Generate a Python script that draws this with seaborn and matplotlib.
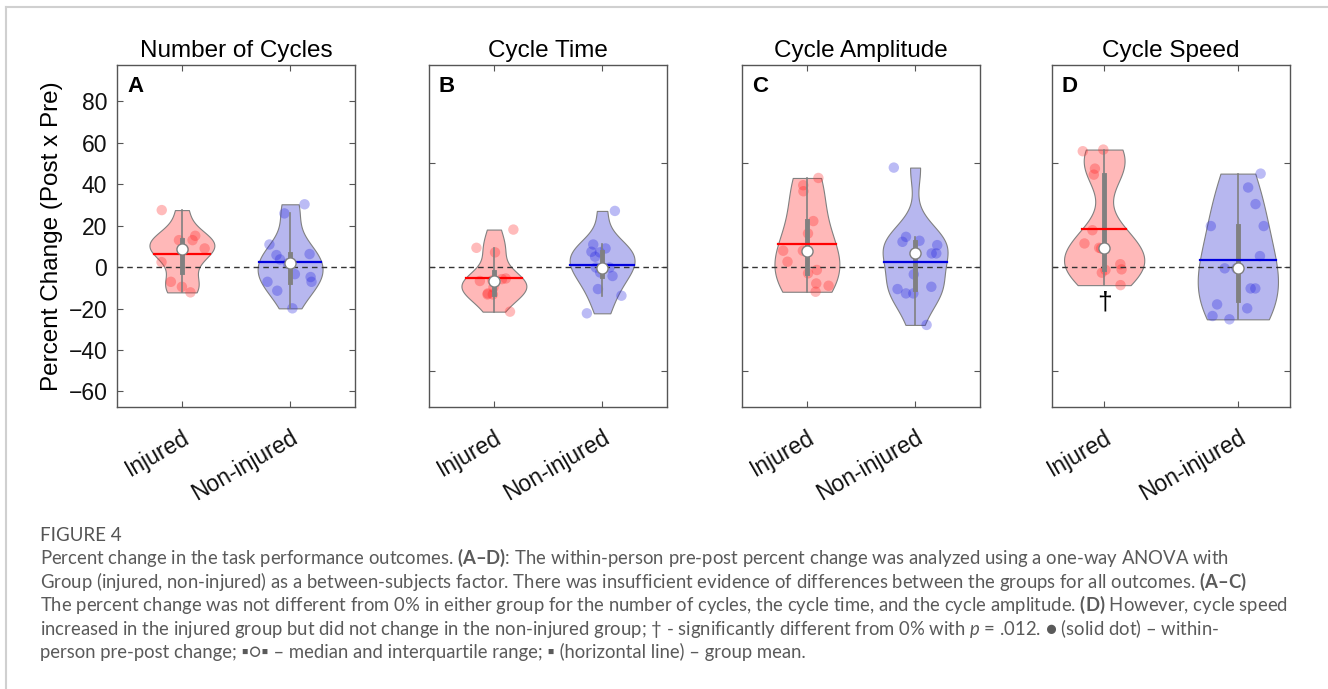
"""
Violin plots of within-person pre-post percent change (Figure 4)
"""
import numpy as np
import pandas as pd
import seaborn as sns
import matplotlib as mpl
import matplotlib.pyplot as plt
from matplotlib.lines import Line2D
mpl.use('Agg')

groups = ['Injured', 'Non-injured']
titles = ['Number of Cycles', 'Cycle Time', 'Cycle Amplitude', 'Cycle Speed']
letters = ['A', 'B', 'C', 'D']

# percent change values
cycles_injured    = [27.5, 15.1, 13.0, 13.0, 9.0, 8.5, 8.7, 2.4, -7.1, -9.5, -12.2]
cycles_noninjured = [30.3, 25.9, 10.9, 3.7, 6.3, 5.8, 1.8, -4.8, -7.1, -3.4, -7.1, -11.4, -19.9]
time_injured      = [18.1, 9.3, 7.1, -5.5, -5.8, -6.4, -6.7, -9.8, -12.7, -13.2, -13.2, -21.5]
time_noninjured   = [27.1, 10.9, 9.0, 7.4, 7.1, 5.0, -0.2, -0.2, -2.6, -4.3, -10.6, -13.8, -22.3]
amp_injured       = [43.0, 39.5, 36.6, 22.2, 16.2, 7.9, 7.9, 2.6, -1.4, -3.0, -7.9, -9.0, -11.9]
amp_noninjured    = [48.0, 14.6, 12.7, 12.2, 10.6, 6.6, 6.6, -3.5, -9.5, -10.6, -12.7, -12.7, -27.9]
speed_injured     = [56.7, 55.9, 47.5, 44.6, 17.8, 11.4, 9.3, 9.0, 1.4, -1.1, -1.4, -2.7, -8.7]
speed_noninjured  = [45.1, 38.4, 30.4, 19.8, 19.8, 5.3, -0.6, -0.6, -10.3, -10.3, -18.0, -19.9, -23.6, -25.2]

panels = [(cycles_injured, cycles_noninjured),
          (time_injured, time_noninjured),
          (amp_injured, amp_noninjured),
          (speed_injured, speed_noninjured)]

caption_lines = [
  r'Percent change in the task performance outcomes. $\mathbf{(A–D)}$: The within-person pre-post percent change was analyzed using a one-way ANOVA with',
  r'Group (injured, non-injured) as a between-subjects factor. There was insufficient evidence of differences between the groups for all outcomes. $\mathbf{(A–C)}$',
  r'The percent change was not different from 0% in either group for the number of cycles, the cycle time, and the cycle amplitude. $\mathbf{(D)}$ However, cycle speed',
  r'increased in the injured group but did not change in the non-injured group; † - significantly different from 0% with $p$ = .012. ● (solid dot) – within-',
  r'person pre-post change; ▪○▪ – median and interquartile range; ▪ (horizontal line) – group mean.',
]

fill_pal = {'Injured': '#ffb8b8', 'Non-injured': '#b7b7ef'}
dot_pal  = {'Injured': '#ff2020', 'Non-injured': '#2020e0'}
mean_pal = {'Injured': '#ff0000', 'Non-injured': '#0000dd'}

plt.rcParams['font.family'] = ['Liberation Sans', 'DejaVu Sans']
plt.rcParams['mathtext.fontset'] = 'custom'
plt.rcParams['mathtext.rm'] = 'Lato'
plt.rcParams['mathtext.it'] = 'Lato:italic'
plt.rcParams['mathtext.bf'] = 'Lato:bold'
plt.rcParams['mathtext.fallback'] = 'stixsans'


def matlab_bw(kde):
  """ksdensity-style bandwidth (robust sigma, normal rule) as a gaussian_kde factor"""
  x = kde.dataset.ravel()
  sig = np.median(np.abs(x - np.median(x))) / 0.6745
  bw = sig * (4.0 / (3.0 * len(x))) ** 0.2
  return bw / np.std(x, ddof=1)


W, H = 1328, 689
fig = plt.figure(figsize=(W / 100, H / 100), dpi=100)

lefts = [117, 429, 742, 1052]
ax_w, ax_top, ax_bot = 238, 65, 407

np.random.seed(7)
for i, (inj, non) in enumerate(panels):
  ax = fig.add_axes([lefts[i] / W, 1 - ax_bot / H, ax_w / W, (ax_bot - ax_top) / H])

  df = pd.DataFrame({'group': ['Injured'] * len(inj) + ['Non-injured'] * len(non),
                     'value': inj + non})

  ax.axhline(0, color='#333333', ls=(0, (4, 3)), lw=1.0, zorder=1.5)

  sns.violinplot(data=df, x='group', y='value', hue='group', order=groups, hue_order=groups,
                 palette=fill_pal, saturation=1, cut=0, density_norm='width', width=0.6,
                 bw_method=matlab_bw, inner='box',
                 inner_kws=dict(box_width=3.5, whis_width=1.2, marker='o', color='#808080'),
                 linecolor='#808080', linewidth=0.8, legend=False, ax=ax)
  violins = list(ax.collections)

  for line in ax.lines:
    if line.get_marker() == 'o':
      line.set_markersize(8)
      line.set_markerfacecolor('white')
      line.set_markeredgecolor('#808080')
      line.set_markeredgewidth(1.0)
      line.set_zorder(3)
    else:
      line.set_zorder(2.2)

  sns.stripplot(data=df, x='group', y='value', hue='group', order=groups, hue_order=groups,
                palette=dot_pal, jitter=0.22, size=7.5, alpha=0.3, linewidth=0,
                legend=False, ax=ax, zorder=1.8)

  # group mean line spanning the violin width at that level
  for j, (g, vals) in enumerate(zip(groups, (inj, non))):
    m = np.mean(vals)
    verts = violins[j].get_paths()[0].vertices
    right = verts[verts[:, 0] > j + 1e-9]
    right = right[np.argsort(right[:, 1])]
    half = np.interp(m, right[:, 1], right[:, 0]) - j
    ax.plot([j - half, j + half], [m, m], color=mean_pal[g], lw=1.6, zorder=2.5)

  if i == 3:
    ax.set_xlim(-0.39, 1.39)
    ax.text(0, -17, '†', ha='center', va='center', fontsize=19, zorder=4)
  else:
    ax.set_xlim(-0.6, 1.6)
  ax.set_ylim(-67.5, 97.5)

  ax.tick_params(direction='in', top=True, right=True, length=4, width=0.8,
                 color='#555555', labelsize=16.5, labelcolor='#111111')
  ax.tick_params(axis='y', pad=7)
  ax.tick_params(axis='x', pad=14)
  if i == 0:
    ax.set_yticks(range(-60, 81, 20))
    ax.set_ylabel('Percent Change (Post x Pre)', fontsize=17.5, labelpad=4)
  else:
    ax.set_yticks([-50, 0, 50])
    ax.tick_params(axis='y', labelleft=False)
    ax.set_ylabel('')
  ax.set_xticks([0, 1])
  ax.set_xticklabels(groups, rotation=30, ha='right', va='top', rotation_mode='anchor')
  ax.set_xlabel('')
  for sp in ax.spines.values():
    sp.set_color('#555555')
    sp.set_linewidth(1.0)

  ax.set_title(titles[i], fontsize=17.5, pad=6)
  ax.text(0.042, 0.968, letters[i], transform=ax.transAxes, ha='left', va='top',
          fontsize=16, fontweight='bold')

# frame around the figure panel
fig.add_artist(Line2D([6 / W, 6 / W], [0, 1 - 7 / H], transform=fig.transFigure,
                      color='#d0d0d0', lw=1.5))
fig.add_artist(Line2D([6 / W, 1], [1 - 7 / H, 1 - 7 / H], transform=fig.transFigure,
                      color='#d0d0d0', lw=1.5))

# caption
fig.text(40 / W, 1 - 541 / H, 'FIGURE 4', fontsize=13.5, color='#555555',
         family=['Lato', 'DejaVu Sans'], va='baseline')
baselines = [564, 588, 611, 635, 658]
for txt, yb in zip(caption_lines, baselines):
  fig.text(40 / W, 1 - yb / H, txt, fontsize=13.35, color='#5a5a5a',
           family=['Lato', 'DejaVu Sans'], va='baseline')

plt.savefig('out.png', dpi=100)
plt.close(fig)
